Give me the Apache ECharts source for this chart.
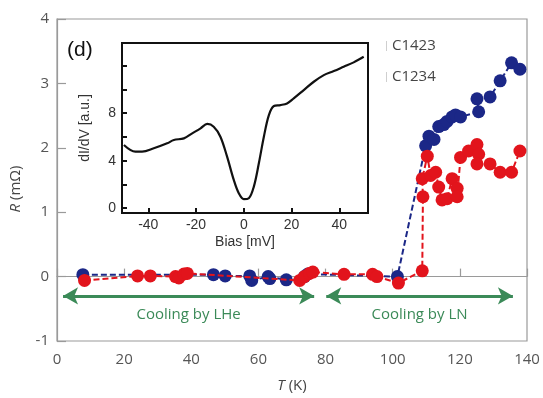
<!DOCTYPE html>
<html>
<head>
<meta charset="utf-8">
<script src="https://cdn.jsdelivr.net/npm/echarts@6/dist/echarts.min.js"></script>
<style>
  html, body { margin: 0; padding: 0; background: #fff; }
  #chart { width: 543px; height: 398px; }
</style>
</head>
<body>
<div id="chart"></div>
<script>
// Resistance vs temperature for two samples
const seriesNames = ['C1423', 'C1234'];

const tempC1423 = [7.7, 46.6, 50.1, 57.4, 58.0, 62.9, 63.4, 68.3, 73.7, 74.7, 101.4,
  109.8, 110.8, 112.3, 113.7, 115.2, 116.2, 117.7, 118.7, 120.2, 125.6, 125.1, 129.0, 132.0, 135.4, 137.9];
const resC1423 = [0.03, 0.03, 0.01, 0.01, -0.06, 0.0, -0.03, -0.05, 0.0, 0.04, 0.0,
  2.03, 2.18, 2.13, 2.33, 2.36, 2.41, 2.48, 2.51, 2.48, 2.56, 2.76, 2.79, 3.04, 3.32, 3.22];

const tempC1234 = [8.2, 24.0, 27.8, 35.3, 36.3, 37.8, 38.8, 72.3, 73.7, 75.2, 76.2, 85.5, 94.0, 95.3, 101.7, 108.8,
  109.0, 108.8, 110.3, 111.3, 112.8, 113.7, 114.7, 116.2, 117.7, 119.2, 119.2, 120.2, 122.6, 125.1, 125.6, 125.1,
  129.0, 132.0, 135.4, 137.9];
const resC1234 = [-0.06, 0.01, 0.01, 0.0, -0.02, 0.04, 0.05, -0.06, 0.0, 0.05, 0.07, 0.035, 0.035, 0.0, -0.1, 0.09,
  1.24, 1.52, 1.87, 1.57, 1.62, 1.39, 1.19, 1.21, 1.52, 1.37, 1.24, 1.85, 1.95, 2.05, 1.9, 1.75,
  1.75, 1.62, 1.62, 1.95];

// Cooling regimes (temperature spans) and their captions
const coolingSpans = [[1.8, 76.6], [80.2, 135.8]];
const coolingLevel = -0.3;
const coolingLabels = ['Cooling by LHe', 'Cooling by LN'];

// Tunnelling spectrum (inset)
const biasMv = [-50.2, -45.4, -42.6, -37.7, -32.1, -29.3, -25.1, -21.6, -18.1, -15.3, -12.6, -9.8, -7.0, -4.2,
  -2.1, 0.0, 2.1, 4.2, 6.3, 8.4, 10.5, 12.6, 15.3, 18.1, 20.9, 25.1, 29.3, 33.5, 37.7, 41.8, 46.0, 50.2];
const dIdV = [5.32, 4.76, 4.76, 5.04, 5.46, 5.74, 5.88, 6.3, 6.72, 7.09, 6.86, 6.02, 4.34, 2.38,
  1.26, 0.76, 0.84, 1.82, 3.78, 6.02, 7.84, 8.6, 8.68, 8.82, 9.24, 9.94, 10.64, 11.2, 11.54, 11.9, 12.27, 12.74];

const xTicksMain = [0, 20, 40, 60, 80, 100, 120, 140];
const yTicksMain = [-1, 0, 1, 2, 3, 4];
const insetXLabels = [-40, -20, 0, 20, 40];
const insetYLabels = [0, 4, 8];
const insetYTicks = [0, 2, 4, 6, 8, 10, 12];

const pair = (xs, ys) => xs.map((x, i) => [x, ys[i]]);

const BLUE = '#1b2787';
const RED = '#e2141c';
const GREEN = '#3b8a58';
const AXIS_GREY = '#9a9a9a';
const MAIN_FONT = 'Open Sans';
const INSET_FONT = 'Liberation Sans';

const chart = echarts.init(document.getElementById('chart'), null, { renderer: 'canvas' });

chart.setOption({
  animation: false,
  backgroundColor: '#fff',
  grid: [
    { left: 55, right: 16, top: 19, bottom: 50, show: true, borderColor: AXIS_GREY, borderWidth: 1.2, containLabel: false },
    { left: 122, right: 175, top: 43, bottom: 185, show: true, borderColor: '#111', borderWidth: 2, containLabel: false }
  ],
  legend: {
    data: seriesNames,
    orient: 'vertical',
    left: 381,
    top: 32,
    itemGap: 13,
    icon: 'rect',
    itemWidth: 1,
    itemHeight: 10,
    itemStyle: { color: '#cfcfcf' },
    textStyle: { fontFamily: MAIN_FONT, fontSize: 15, color: '#454545', lineHeight: 18 }
  },
  xAxis: [
    {
      gridIndex: 0, type: 'value', min: 0, max: 140, interval: 20,
      name: '{i|T} (K)', nameLocation: 'middle', nameGap: 37,
      nameTextStyle: {
        fontFamily: MAIN_FONT, fontSize: 15, color: '#454545',
        rich: { i: { fontFamily: MAIN_FONT, fontSize: 15, fontStyle: 'italic', color: '#454545' } }
      },
      axisLine: { lineStyle: { color: AXIS_GREY, width: 1.2 } },
      axisTick: { show: true, inside: true, length: 8, customValues: xTicksMain, lineStyle: { color: AXIS_GREY, width: 1.2 } },
      axisLabel: { fontFamily: MAIN_FONT, fontSize: 15, color: '#555', margin: 11, customValues: xTicksMain },
      splitLine: { show: false }
    },
    {
      gridIndex: 1, type: 'value', min: -51, max: 52,
      name: 'Bias [mV]', nameLocation: 'middle', nameGap: 22,
      nameTextStyle: { fontFamily: INSET_FONT, fontSize: 14, color: '#333' },
      axisLine: { onZero: false, lineStyle: { color: '#111', width: 2 } },
      axisTick: { show: true, inside: true, length: 5, customValues: insetXLabels, lineStyle: { color: '#111', width: 2 } },
      axisLabel: { fontFamily: INSET_FONT, fontSize: 14, color: '#333', margin: 5, customValues: insetXLabels },
      splitLine: { show: false }
    }
  ],
  yAxis: [
    {
      gridIndex: 0, type: 'value', min: -1, max: 4, interval: 1,
      name: '{i|R} (mΩ)', nameLocation: 'middle', nameGap: 34,
      nameTextStyle: {
        fontFamily: MAIN_FONT, fontSize: 15, color: '#454545', padding: [0, 18, 0, 0],
        rich: { i: { fontFamily: MAIN_FONT, fontSize: 15, fontStyle: 'italic', color: '#454545' } }
      },
      axisLine: { lineStyle: { color: AXIS_GREY, width: 1.2 } },
      axisTick: { show: true, inside: true, length: 9, customValues: yTicksMain, lineStyle: { color: AXIS_GREY, width: 1.2 } },
      axisLabel: { fontFamily: MAIN_FONT, fontSize: 15, color: '#555', margin: 8, customValues: yTicksMain },
      splitLine: { show: false }
    },
    {
      gridIndex: 1, type: 'value', min: -0.4, max: 13.9,
      name: 'dI/dV [a.u.]', nameLocation: 'middle', nameGap: 30,
      nameTextStyle: { fontFamily: INSET_FONT, fontSize: 14, color: '#333' },
      axisLine: { onZero: false, lineStyle: { color: '#111', width: 2 } },
      axisTick: { show: true, inside: true, length: 5, customValues: insetYTicks, lineStyle: { color: '#111', width: 2 } },
      axisLabel: { fontFamily: INSET_FONT, fontSize: 14, color: '#333', margin: 6, customValues: insetYLabels },
      splitLine: { show: false }
    }
  ],
  graphic: [
    { type: 'text', left: 67, top: 40, z: 100, style: { text: '(d)', fontFamily: INSET_FONT, fontSize: 21, fill: '#111' } }
  ],
  series: [
    {
      name: seriesNames[0], type: 'line', xAxisIndex: 0, yAxisIndex: 0,
      data: pair(tempC1423, resC1423),
      symbol: 'circle', symbolSize: 13,
      itemStyle: { color: BLUE },
      lineStyle: { color: BLUE, width: 2, type: [6, 3] },
      z: 3
    },
    {
      name: seriesNames[1], type: 'line', xAxisIndex: 0, yAxisIndex: 0,
      data: pair(tempC1234, resC1234),
      symbol: 'circle', symbolSize: 13,
      itemStyle: { color: RED },
      lineStyle: { color: RED, width: 2, type: [6, 3] },
      z: 4
    },
    {
      name: 'cooling', type: 'line', xAxisIndex: 0, yAxisIndex: 0, data: [],
      markLine: {
        silent: true,
        symbol: ['arrow', 'arrow'],
        symbolSize: [13, 15],
        lineStyle: { color: GREEN, width: 3, type: 'solid' },
        label: {
          show: true, position: 'insideMiddleBottom', distance: 11,
          fontFamily: MAIN_FONT, fontSize: 15, color: GREEN
        },
        data: coolingSpans.map((s, i) => [
          { coord: [s[0], coolingLevel], name: coolingLabels[i], label: { formatter: coolingLabels[i] } },
          { coord: [s[1], coolingLevel] }
        ])
      }
    },
    {
      name: 'spectrum', type: 'line', xAxisIndex: 1, yAxisIndex: 1,
      data: pair(biasMv, dIdV),
      smooth: 0.35, showSymbol: false, symbol: 'none',
      lineStyle: { color: '#111', width: 2.2 },
      z: 10
    }
  ]
});
</script>
</body>
</html>
